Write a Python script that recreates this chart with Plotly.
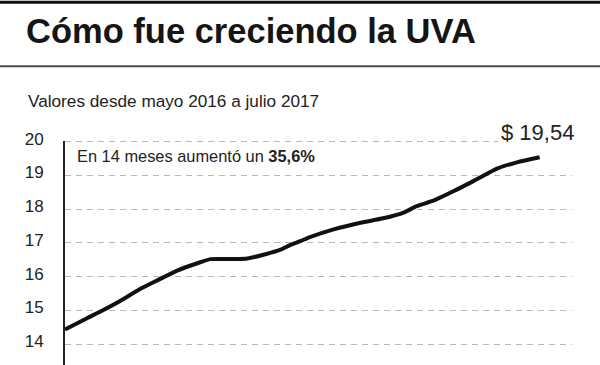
import plotly.graph_objects as go

# Data (UVA value, May 2016 - July 2017)
dates = ["2016-05-01", "2016-05-21", "2016-06-02", "2016-06-19", "2016-07-10",
         "2016-07-25", "2016-08-13", "2016-08-31", "2016-09-13", "2016-10-04",
         "2016-10-17", "2016-11-01", "2016-11-17", "2016-11-26", "2016-12-05",
         "2016-12-14", "2017-01-05", "2017-01-30", "2017-02-20", "2017-03-11",
         "2017-03-23", "2017-04-08", "2017-04-26", "2017-05-15", "2017-06-06",
         "2017-06-24", "2017-07-15"]
uva = [14.43, 14.76, 14.95, 15.24, 15.64,
       15.88, 16.18, 16.39, 16.52, 16.52,
       16.54, 16.65, 16.80, 16.94, 17.05,
       17.17, 17.40, 17.60, 17.73, 17.90,
       18.09, 18.26, 18.53, 18.84, 19.21,
       19.39, 19.54]
y_ticks = [13, 14, 15, 16, 17, 18, 19, 20]

title = "Cómo fue creciendo la UVA"
subtitle = "Valores desde mayo 2016 a julio 2017"
note = "En 14 meses aumentó un <b>35,6%</b>"
last_label = "$ 19,54"

NARROW = "Liberation Sans Narrow, Arial Narrow, Liberation Sans, Arial, sans-serif"
BOLD = "Liberation Sans, Arial, Helvetica, sans-serif"

W, H = 600, 365
Y_MIN, Y_MAX = 13.38, 20.2
PX_PER_UNIT = 33.8
L, R, B = 65, 28, 0
T = round(H - B - (Y_MAX - Y_MIN) * PX_PER_UNIT, 1)
pw, ph = W - L - R, H - T - B


def px_x(x):
    return (x - L) / pw


def px_y(y):
    return (H - B - y) / ph


fig = go.Figure()
fig.add_trace(go.Scatter(
    x=dates, y=uva, mode="lines",
    line=dict(color="#111111", width=4, shape="spline", smoothing=0.6),
    hoverinfo="skip", showlegend=False,
))

fig.update_layout(
    width=W, height=H,
    margin=dict(l=L, r=R, t=T, b=B, pad=0),
    paper_bgcolor="white", plot_bgcolor="white",
    title=dict(text="<b>" + title + "</b>", x=26 / W, xanchor="left",
               xref="container", y=1 - 31 / H, yref="container", yanchor="middle",
               font=dict(family=BOLD, size=34.5, color="#151515")),
    xaxis=dict(range=["2016-05-01", "2017-08-14"], visible=False, fixedrange=True),
    yaxis=dict(range=[Y_MIN, Y_MAX], tickvals=y_ticks, ticktext=[str(v) for v in y_ticks],
               showgrid=True, gridcolor="#b8b8b8", gridwidth=1, griddash="6px,5px",
               zeroline=False, showline=True, linecolor="#222222", linewidth=2,
               ticks="", ticklabelstandoff=16, ticklabelshift=-3,
               tickfont=dict(family=NARROW, size=17, color="#222222"),
               fixedrange=True),
    font=dict(family=NARROW),
)

# top black bar
fig.add_shape(type="line", xref="paper", yref="paper",
              x0=px_x(0), x1=px_x(W), y0=px_y(1.5), y1=px_y(1.5),
              line=dict(color="#111111", width=3), layer="above")
# separator under the title
fig.add_shape(type="line", xref="paper", yref="paper",
              x0=px_x(0), x1=px_x(W), y0=px_y(65.5), y1=px_y(65.5),
              line=dict(color="#4a4a4a", width=2), layer="above")
# white cover so the axis line starts at the top gridline
fig.add_shape(type="rect", xref="paper", yref="paper",
              x0=px_x(60), x1=px_x(68), y0=px_y(140.5), y1=1.0,
              fillcolor="white", line=dict(width=0), layer="above")

fig.add_annotation(text=subtitle, xref="paper", yref="paper",
                   x=px_x(26), y=px_y(100.5), xanchor="left", yanchor="middle",
                   showarrow=False, font=dict(family=NARROW, size=17.2, color="#222222"))
fig.add_annotation(text=note, xref="paper", yref="paper",
                   x=px_x(75), y=px_y(156), xanchor="left", yanchor="middle",
                   showarrow=False, font=dict(family=NARROW, size=16.4, color="#222222"))
fig.add_annotation(text=last_label, xref="paper", yref="paper",
                   x=px_x(498), y=px_y(131.5), xanchor="left", yanchor="middle",
                   showarrow=False, bgcolor="white", borderpad=2,
                   font=dict(family=NARROW, size=22, color="#222222"))

fig.write_html("out.html", config={"displayModeBar": False},
               post_script="document.body.style.margin='0';")
